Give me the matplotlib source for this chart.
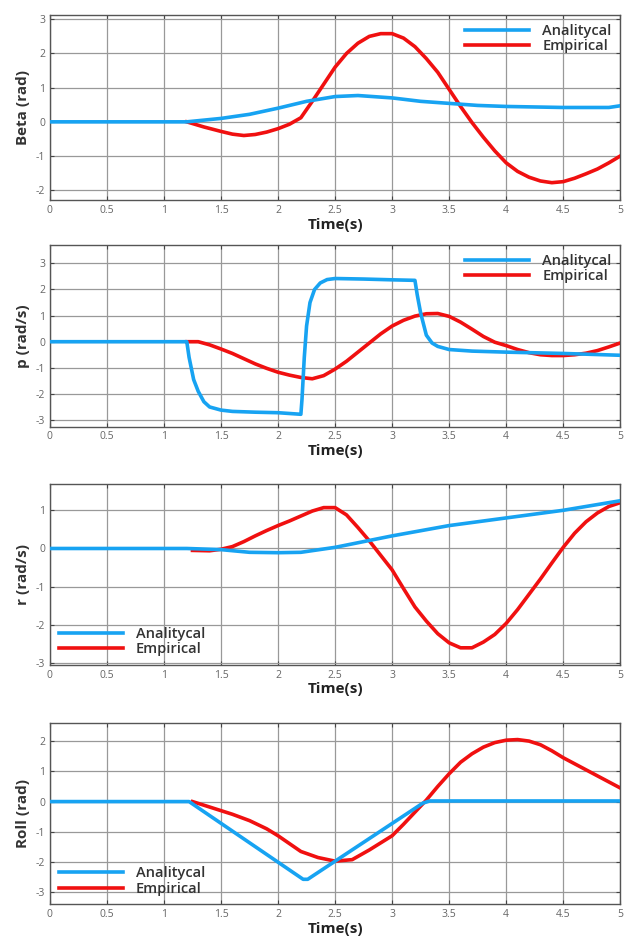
import matplotlib
matplotlib.use("Agg")
import matplotlib.pyplot as plt

plt.rcParams['font.family'] = ['Open Sans', 'DejaVu Sans']
plt.rcParams['axes.unicode_minus'] = False

BLUE = '#17a3f2'
RED = '#f01010'

# --- Beta ---
beta_t_ana = [0, 1.2, 1.5, 1.75, 2.0, 2.25, 2.5, 2.7, 3.0, 3.25, 3.5, 3.75, 4.0, 4.5, 4.9, 5.0]
beta_ana = [0, 0, 0.1, 0.22, 0.4, 0.6, 0.74, 0.77, 0.7, 0.6, 0.54, 0.48, 0.45, 0.42, 0.42, 0.47]
beta_t_emp = [1.2, 1.35, 1.5, 1.6, 1.7, 1.8, 1.9, 2.0, 2.1, 2.2, 2.3, 2.4, 2.5, 2.6, 2.7, 2.8,
              2.9, 3.0, 3.1, 3.2, 3.3, 3.4, 3.5, 3.6, 3.7, 3.8, 3.9, 4.0, 4.1, 4.2, 4.3, 4.4,
              4.5, 4.6, 4.7, 4.8, 4.9, 5.0]
beta_emp = [0, -0.15, -0.28, -0.36, -0.4, -0.37, -0.3, -0.2, -0.07, 0.12, 0.6, 1.1, 1.6, 2.0,
            2.3, 2.5, 2.58, 2.58, 2.45, 2.2, 1.85, 1.45, 0.95, 0.45, -0.02, -0.45, -0.85, -1.2,
            -1.45, -1.62, -1.73, -1.78, -1.75, -1.65, -1.52, -1.38, -1.2, -1.0]

# --- p ---
p_t_ana = [0, 1.2, 1.22, 1.26, 1.3, 1.35, 1.4, 1.5, 1.6, 1.8, 2.0, 2.2, 2.21, 2.23, 2.25, 2.28,
           2.32, 2.37, 2.43, 2.5, 2.75, 3.0, 3.2, 3.22, 3.25, 3.3, 3.35, 3.4, 3.5, 3.7, 4.0, 4.5, 5.0]
p_ana = [0, 0, -0.6, -1.45, -1.9, -2.3, -2.5, -2.62, -2.67, -2.7, -2.72, -2.78, -2.2, -0.6, 0.6,
         1.5, 2.0, 2.25, 2.38, 2.42, 2.4, 2.37, 2.35, 1.8, 1.1, 0.25, -0.05, -0.18, -0.3, -0.36,
         -0.4, -0.45, -0.52]
p_t_emp = [1.2, 1.3, 1.4, 1.5, 1.6, 1.7, 1.8, 1.9, 2.0, 2.1, 2.2, 2.3, 2.4, 2.5, 2.6, 2.7, 2.8,
           2.9, 3.0, 3.1, 3.2, 3.3, 3.4, 3.5, 3.6, 3.7, 3.8, 3.9, 4.0, 4.1, 4.2, 4.3, 4.4, 4.5,
           4.6, 4.7, 4.8, 4.9, 5.0]
p_emp = [0, 0.0, -0.12, -0.28, -0.45, -0.65, -0.85, -1.02, -1.17, -1.28, -1.37, -1.42, -1.3,
         -1.05, -0.75, -0.4, -0.05, 0.3, 0.6, 0.82, 0.98, 1.07, 1.08, 0.97, 0.75, 0.48, 0.2,
         -0.02, -0.15, -0.3, -0.42, -0.5, -0.53, -0.53, -0.5, -0.44, -0.34, -0.2, -0.05]

# --- r ---
r_t_ana = [0, 1.2, 1.5, 1.75, 2.0, 2.2, 2.5, 3.0, 3.5, 4.0, 4.5, 5.0]
r_ana = [0, 0, -0.03, -0.1, -0.11, -0.1, 0.03, 0.33, 0.6, 0.8, 1.0, 1.25]
r_t_emp = [1.25, 1.4, 1.5, 1.6, 1.7, 1.8, 1.9, 2.0, 2.1, 2.2, 2.3, 2.4, 2.5, 2.6, 2.7, 2.8, 2.9,
           3.0, 3.1, 3.2, 3.3, 3.4, 3.5, 3.6, 3.7, 3.8, 3.9, 4.0, 4.1, 4.2, 4.3, 4.4, 4.5, 4.6,
           4.7, 4.8, 4.9, 5.0]
r_emp = [-0.05, -0.06, -0.02, 0.05, 0.18, 0.33, 0.47, 0.6, 0.72, 0.85, 0.98, 1.07, 1.07, 0.88,
         0.55, 0.2, -0.18, -0.56, -1.05, -1.53, -1.9, -2.23, -2.47, -2.6, -2.6, -2.45, -2.25,
         -1.96, -1.6, -1.2, -0.8, -0.38, 0.03, 0.4, 0.7, 0.93, 1.1, 1.2]

# --- Roll ---
roll_t_ana = [0, 1.22, 2.22, 2.26, 3.27, 3.33, 5.0]
roll_ana = [0, 0, -2.57, -2.57, -0.05, 0.02, 0.02]
roll_t_emp = [1.25, 1.4, 1.5, 1.6, 1.75, 1.9, 2.0, 2.2, 2.35, 2.5, 2.65, 2.8, 3.0, 3.1, 3.2, 3.3,
              3.4, 3.5, 3.6, 3.7, 3.8, 3.9, 4.0, 4.1, 4.2, 4.3, 4.4, 4.5, 4.6, 4.7, 4.8, 4.9, 5.0]
roll_emp = [0, -0.18, -0.3, -0.42, -0.63, -0.9, -1.13, -1.65, -1.85, -1.97, -1.92, -1.6, -1.13,
            -0.75, -0.35, 0.05, 0.5, 0.92, 1.3, 1.58, 1.8, 1.95, 2.03, 2.05, 2.0, 1.88, 1.68,
            1.45, 1.25, 1.05, 0.85, 0.65, 0.45]

x_ticks = [0, 0.5, 1, 1.5, 2, 2.5, 3, 3.5, 4, 4.5, 5]
x_tick_labels = ['0', '0.5', '1', '1.5', '2', '2.5', '3', '3.5', '4', '4.5', '5']

paineis = [
    # ylabel, ylim, yticks, dados, legenda, posicao
    ('Beta (rad)', (-2.3, 3.12), [-2, -1, 0, 1, 2, 3],
     (beta_t_ana, beta_ana, beta_t_emp, beta_emp), 'upper right', [0.080, 0.789, 0.914, 0.195]),
    ('p (rad/s)', (-3.25, 3.7), [-3, -2, -1, 0, 1, 2, 3],
     (p_t_ana, p_ana, p_t_emp, p_emp), 'upper right', [0.080, 0.551, 0.914, 0.191]),
    ('r (rad/s)', (-3.05, 1.7), [-3, -2, -1, 0, 1],
     (r_t_ana, r_ana, r_t_emp, r_emp), 'lower left', [0.080, 0.300, 0.914, 0.191]),
    ('Roll (rad)', (-3.4, 2.6), [-3, -2, -1, 0, 1, 2],
     (roll_t_ana, roll_ana, roll_t_emp, roll_emp), 'lower left', [0.080, 0.048, 0.914, 0.191]),
]

fig = plt.figure(figsize=(6.24, 9.5), dpi=100)

for ylabel, ylim, yticks, dados, loc, pos in paineis:
    ax = fig.add_axes(pos)
    t_a, y_a, t_e, y_e = dados
    ax.plot(t_e, y_e, color=RED, lw=2.6, label='Empirical', zorder=3)
    ax.plot(t_a, y_a, color=BLUE, lw=2.6, label='Analitycal', zorder=4)

    ax.set_xlim(0, 5)
    ax.set_ylim(*ylim)
    ax.set_xticks(x_ticks)
    ax.set_xticklabels(x_tick_labels)
    ax.set_yticks(yticks)
    ax.grid(True, color='#999999', lw=0.9)
    ax.set_axisbelow(True)
    ax.tick_params(direction='in', top=True, right=True, labelsize=7.5,
                   labelcolor='#666666', color='#444444', length=3)
    for s in ax.spines.values():
        s.set_color('#555555')
        s.set_linewidth(1.0)

    ax.set_ylabel(ylabel, fontsize=11, fontweight='bold', color='#333333', labelpad=4)
    ax.set_xlabel('Time(s)', fontsize=11, fontweight='bold', color='#222222', labelpad=1)

    handles, labels = ax.get_legend_handles_labels()
    leg = ax.legend(handles[::-1], labels[::-1], loc=loc, frameon=False, fontsize=10.5,
                    handlelength=4.4, handletextpad=0.9, borderpad=0.2,
                    labelspacing=0.1, borderaxespad=0.4)
    for txt in leg.get_texts():
        txt.set_color('#333333')
        txt.set_fontweight('semibold')

fig.savefig('out.png', dpi=100, facecolor='white')
